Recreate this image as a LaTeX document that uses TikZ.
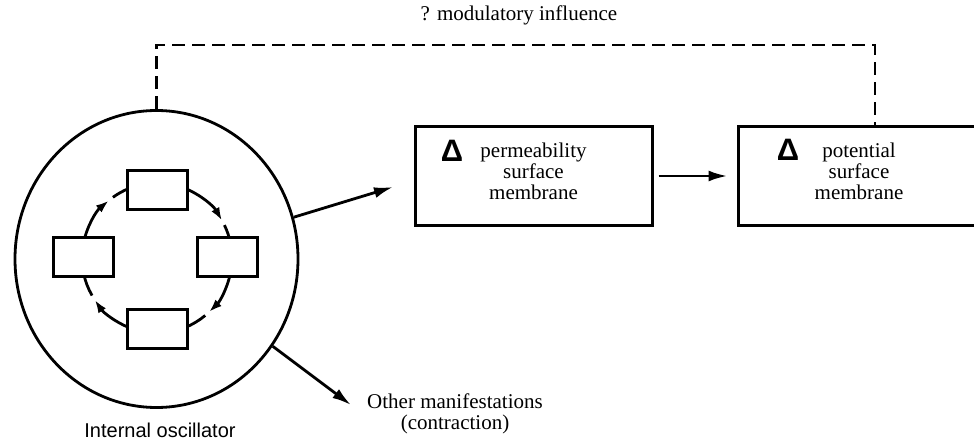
\documentclass[tikz,border=0pt]{standalone}
\usepackage{fontspec}
\setmainfont{Liberation Serif}
\newfontfamily\oscfont{Liberation Sans}
\usetikzlibrary{arrows.meta,shapes.geometric}
\newcommand\labelsize{\fontsize{21}{21}\selectfont}
\newcommand\deltasize{\oscfont\bfseries\fontsize{31}{31}\selectfont}

\begin{document}
\begin{tikzpicture}[x=1pt,y=1pt,
  box/.style={draw,line width=3pt,fill=white},
  cell/.style={box,minimum width=60pt,minimum height=39pt,inner sep=0pt},
  stage/.style={box,minimum width=237pt,minimum height=99pt,align=center,font=\labelsize,text depth=9pt},
  arr/.style={line width=2.8pt,-{Latex[length=19pt,width=11pt]}},
  ring/.style={line width=2.8pt},
  modline/.style={line width=2.8pt,dash pattern=on 13pt off 7pt}]
\useasboundingbox (0,0) rectangle (974,442);
\node [ellipse,draw,line width=2.8pt,minimum width=283pt,minimum height=297pt,inner sep=0pt] (osc) at (156.5,183) {};
\coordinate (mid) at (157,184);
% the loop inside the oscillator
\foreach \s/\m/\e in {68/30/12, -12/-46/-68, -112/-146/-168, 168/130/112}
  { \draw [ring,-{Latex[length=13pt,width=9pt]}] ([shift={(\s:75)}]mid) arc [start angle=\s,end angle=\m,radius=75];
    \draw [ring] ([shift={(\m-4:75)}]mid) arc [start angle=\m-4,end angle=\e,radius=75]; }
\node [cell] (top) at (157,252) {};
\node [cell] (right) at (227,185) {};
\node [cell] (bottom) at (157,113) {};
\node [cell] (left) at (83,185) {};
\node [stage] (perm) at (533.5,266) {permeability\\surface\\membrane};
\node [stage,minimum width=242pt] (pot) at (859,266) {potential\\surface\\membrane};
\node [font=\deltasize] (dperm) at (452,291) {Δ};
\node [font=\deltasize] (dpot) at (788,292) {Δ};
\node [font=\labelsize] (mod) at (519,427) {? modulatory influence};
\node [font=\oscfont\fontsize{20}{20}\selectfont] (osclabel) at (160,12) {Internal oscillator};
\node [font=\labelsize,align=center] (other) at (455,28) {Other manifestations\\(contraction)};
\coordinate (tipp) at (393,255);
\coordinate (tipo) at (351,37);
\coordinate (bend) at (875,397);
\draw [arr] (osc) -- (tipp);
\draw [arr] (osc) -- (tipo);
\draw [arr,shorten <=5pt,shorten >=9pt] (perm) -- (pot);
\draw [modline] (osc.north) |- (bend) -- (bend |- pot.north);
\end{tikzpicture}
\end{document}
